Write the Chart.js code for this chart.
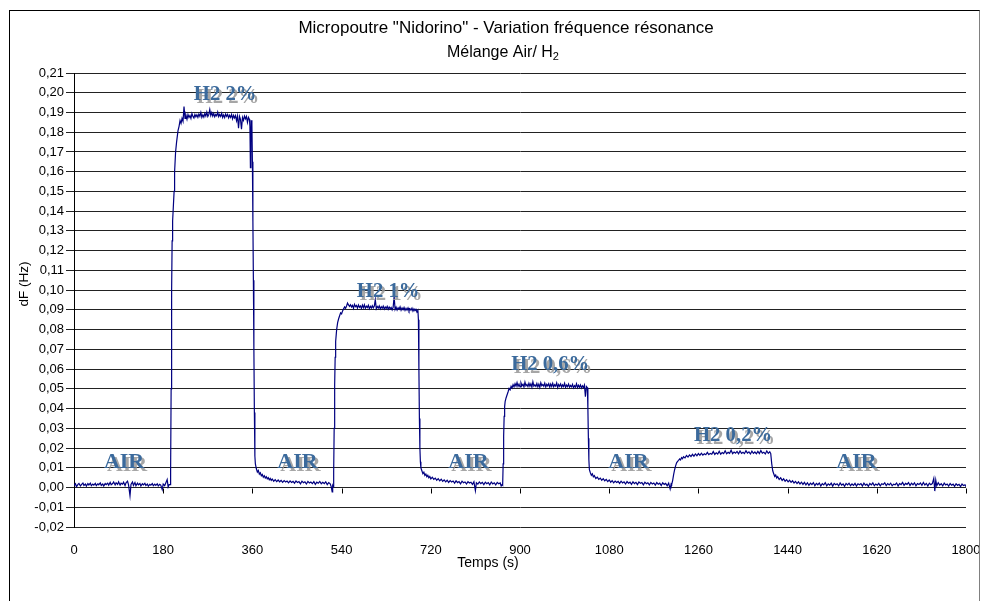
<!DOCTYPE html>
<html><head><meta charset="utf-8">
<script src="https://cdn.jsdelivr.net/npm/chart.js@4.4.0/dist/chart.umd.min.js"></script>
<style>
html,body{margin:0;padding:0;background:#fff;overflow:hidden}
#wrap{position:relative;width:981px;height:601px}
#frame{position:absolute;left:9px;top:10px;width:971px;height:640px;border:1px solid #000;border-right-color:#808080;box-sizing:border-box;pointer-events:none}
canvas{position:absolute;left:0;top:0}
</style></head><body>
<div id="wrap"><canvas id="c" width="981" height="601"></canvas><div id="frame"></div></div>
<script>
// ---- Data (time in s, dF in mHz) ----
const air1 = [[0,1.0],[3,1.9],[5,0.4],[8,1.6],[10,2.1],[13,0.8],[15,1.5],[18,2.3],[20,1.1],[23,1.8],[25,0.7],[28,2.0],[30,1.3],[33,2.2],[35,0.9],[38,1.7],[40,1.2],[43,2.1],[45,1.0],[48,1.9],[50,1.4],[53,2.3],[55,1.1],[58,1.8],[60,0.8],[63,2.0],[65,1.5],[68,2.2],[70,1.2],[73,2.6],[75,1.4],[78,2.0],[80,2.8],[83,1.3],[85,2.4],[88,1.6],[90,2.9],[93,1.2],[95,2.2],[98,1.7],[100,2.7],[103,1.0],[105,2.4],[108,3.2],[110,1.5],[113,-4.2],[115,1.6],[118,2.8],[120,1.1],[123,2.5],[125,0.9],[128,2.2],[130,1.4],[133,2.0],[135,0.8],[138,1.9],[140,1.3],[143,2.1],[145,1.0],[148,1.8],[150,0.7],[153,1.6],[155,1.2],[158,2.0],[160,0.9],[163,1.7],[165,1.1],[168,1.9],[170,0.8],[173,1.6],[175,1.2],[178,-1.0],[180,1.8],[183,1.0],[185,2.2],[188,4.0],[190,0.3],[192,1.5]];
const h2_2pct = [[194,1.5],[195,10],[196,50],[197,100],[198,125],[199,135],[200,140],[202,150],[203,160],[205,170],[207,175],[209,179],[210,181],[212,183],[214,186],[216,184.5],[218,187],[220,185.5],[222,193],[224,187],[226,188.5],[228,186.5],[230,189],[232,187.5],[234,188.5],[236,187],[238,189.5],[240,188],[242,187.2],[244,189],[246,187.8],[248,188.8],[250,187.5],[252,189.2],[254,188],[256,190],[258,187.5],[260,188.8],[262,187.6],[264,189.5],[266,188.2],[268,190.2],[270,188],[272,189],[274,191.5],[276,188.5],[278,190],[280,188.2],[282,189.5],[284,187.8],[286,189],[288,188.3],[290,190.2],[292,187.9],[294,189],[296,188],[298,189.6],[300,187.5],[302,188.8],[304,187.4],[306,189.2],[308,188],[310,189],[312,187.3],[314,188.6],[316,187.5],[318,189],[320,186.8],[322,188.5],[324,187.2],[326,188.4],[328,185.8],[330,188.2],[332,182],[334,188],[336,186.5],[338,181.5],[340,187.5],[342,186],[344,188.2],[346,186.8],[348,188],[350,185],[352,187.5],[354,186.5],[355,183],[356,162],[357,180],[358,186],[359,184],[360,165],[361,135],[362,105],[363,70],[364,38],[365,16]];
const air2 = [[366,12],[368,9.5],[370,7.8],[372,8.6],[374,6.8],[376,7.5],[378,6.0],[380,6.6],[382,5.2],[384,6.0],[386,4.8],[388,5.5],[390,4.4],[392,5.0],[394,3.9],[396,4.6],[398,3.6],[400,4.3],[403,3.2],[406,4.0],[409,3.0],[412,3.8],[415,2.9],[418,3.6],[421,2.6],[424,3.5],[427,2.8],[430,3.3],[433,2.4],[436,3.4],[439,2.6],[442,3.1],[445,2.2],[448,3.3],[451,2.5],[454,3.0],[457,1.9],[460,3.2],[463,2.4],[466,2.9],[469,1.8],[472,3.1],[475,2.3],[478,2.8],[481,2.0],[484,3.0],[487,1.6],[490,2.7],[493,2.2],[496,3.1],[499,1.9],[502,2.6],[505,2.0],[508,2.9],[511,1.5],[514,2.5],[517,1.9],[519,0.5],[521,-2.2],[522,1.0]];
const h2_1pct = [[523,0.5],[524,8],[525,30],[526,52],[527,66],[528,74],[530,80],[532,83.5],[534,85.5],[536,87],[538,88.5],[540,88],[542,89.5],[544,90.5],[546,91.5],[548,90.8],[550,92],[552,93.5],[554,92.5],[556,91.8],[558,92.6],[560,91.5],[562,92.3],[564,90.8],[566,92.8],[568,91.6],[570,92.2],[572,90.9],[574,92.5],[576,91.3],[578,92.0],[580,90.7],[582,92.4],[584,91.1],[586,92.6],[588,90.8],[590,91.9],[592,91.2],[594,92.3],[596,90.6],[598,91.8],[600,90.9],[602,92.1],[604,91.0],[606,91.9],[608,95.2],[610,90.6],[612,91.7],[614,90.9],[616,92.0],[618,90.5],[620,91.6],[622,90.8],[624,91.9],[626,90.4],[628,91.5],[630,90.7],[632,91.8],[634,90.3],[636,91.4],[638,90.6],[640,91.2],[642,90.0],[644,91.3],[646,96.8],[648,90.2],[650,91.4],[652,89.9],[654,91.1],[656,90.3],[658,91.5],[660,89.8],[662,91.0],[664,90.1],[666,91.2],[668,89.7],[670,90.8],[672,89.9],[674,91.0],[676,89.5],[678,90.6],[680,89.8],[682,90.9],[684,89.4],[686,90.5],[688,89.6],[690,90.3],[692,88.9],[694,89.8],[695,85],[696,60],[697,35],[698,20],[699,13]];
const air3 = [[700,10],[702,8.5],[704,7.0],[706,7.8],[708,6.1],[710,6.8],[712,5.5],[714,6.2],[716,4.9],[718,5.6],[720,4.4],[723,5.2],[726,4.1],[729,4.8],[732,3.7],[735,4.5],[738,3.4],[741,4.2],[744,3.1],[747,3.9],[750,2.9],[753,3.7],[756,2.6],[759,3.5],[762,2.8],[765,3.3],[768,2.2],[771,3.4],[774,2.5],[777,3.0],[780,1.9],[783,3.2],[786,2.4],[789,2.8],[792,1.8],[795,3.0],[798,2.3],[801,2.7],[804,1.6],[807,2.9],[810,-1.6],[812,2.4],[815,1.7],[818,2.8],[821,2.0],[824,2.6],[827,1.5],[830,2.7],[833,1.9],[836,2.5],[839,1.4],[842,2.8],[845,1.8],[848,2.4],[851,1.3],[854,2.6],[857,1.9],[860,2.3],[862,0.8],[864,1.5]];
const h2_06pct = [[865,1.2],[866,12],[867,26],[868,36],[869,41],[870,43.5],[872,45.5],[874,47],[876,48.5],[878,50.2],[880,49.5],[882,51.3],[884,50.4],[886,52.1],[888,51.0],[890,52.6],[892,51.4],[894,53.2],[896,51.2],[898,52.4],[900,51.0],[902,53.0],[904,51.6],[906,52.3],[908,50.9],[910,53.4],[912,51.5],[914,52.2],[916,51.1],[918,52.8],[920,51.3],[922,52.5],[924,50.8],[926,53.6],[928,51.4],[930,52.0],[932,51.2],[934,52.7],[936,51.0],[938,52.4],[940,50.7],[942,53.1],[944,51.6],[946,52.2],[948,51.3],[950,52.9],[952,50.9],[954,52.3],[956,51.5],[958,52.6],[960,50.8],[962,52.4],[964,51.2],[966,52.8],[968,51.0],[970,52.1],[972,51.4],[974,53.0],[976,50.6],[978,52.2],[980,51.3],[982,52.5],[984,50.9],[986,52.0],[988,51.2],[990,52.8],[992,50.7],[994,51.9],[996,51.1],[998,52.4],[1000,50.8],[1002,51.7],[1004,51.0],[1006,52.3],[1008,50.5],[1010,51.6],[1012,50.9],[1014,52.6],[1016,50.6],[1018,51.8],[1020,50.8],[1022,52.0],[1024,50.4],[1026,51.5],[1028,50.7],[1030,51.9],[1032,46.0],[1034,51.2],[1036,50.6],[1037,40],[1038,25],[1039,14],[1040,9]];
const air4 = [[1042,7.5],[1044,6.2],[1046,6.9],[1048,5.4],[1050,6.0],[1053,4.6],[1056,5.3],[1059,4.1],[1062,4.8],[1065,3.7],[1068,4.5],[1071,3.4],[1074,4.1],[1077,3.0],[1080,3.8],[1083,2.7],[1086,3.5],[1089,2.4],[1092,3.3],[1095,2.6],[1098,3.1],[1101,2.1],[1104,3.2],[1107,2.3],[1110,2.9],[1113,1.8],[1116,3.0],[1119,2.2],[1122,2.7],[1125,1.6],[1128,2.9],[1131,2.0],[1134,2.6],[1137,1.5],[1140,2.8],[1143,2.1],[1146,2.5],[1149,1.4],[1152,2.7],[1155,1.9],[1158,2.4],[1161,1.3],[1164,2.6],[1167,1.8],[1170,2.3],[1173,1.2],[1176,2.5],[1179,1.7],[1182,2.2],[1185,1.0],[1188,2.4],[1191,1.6],[1194,2.1],[1197,0.9],[1200,2.2],[1203,-0.8],[1205,1.8]];
const h2_02pct = [[1206,1.5],[1208,3.5],[1210,6.5],[1212,9.0],[1214,11.0],[1216,12.5],[1218,13.2],[1220,13.8],[1222,14.5],[1224,14.0],[1226,15.2],[1228,14.6],[1230,15.6],[1233,15.0],[1236,16.2],[1239,15.4],[1242,16.5],[1245,15.7],[1248,16.8],[1251,15.9],[1254,17.0],[1257,16.1],[1260,17.2],[1263,16.3],[1266,17.4],[1269,16.4],[1272,17.1],[1275,16.6],[1278,17.8],[1281,16.7],[1284,17.3],[1287,16.9],[1290,18.2],[1293,16.8],[1296,17.6],[1299,17.0],[1302,18.4],[1305,16.9],[1308,17.7],[1311,17.2],[1314,18.6],[1317,17.1],[1320,17.8],[1323,17.3],[1326,18.9],[1329,17.2],[1332,18.0],[1335,17.4],[1338,18.3],[1341,17.1],[1344,18.5],[1347,17.3],[1350,17.9],[1353,17.2],[1356,18.6],[1359,17.4],[1362,18.1],[1365,17.0],[1368,18.4],[1371,17.3],[1374,18.0],[1377,17.1],[1380,18.3],[1383,17.2],[1386,18.7],[1389,17.4],[1392,17.9],[1395,17.0],[1398,18.5],[1401,17.3],[1404,18.1],[1406,17.2],[1408,12],[1410,8.5]];
const air5 = [[1412,7.0],[1414,5.6],[1416,6.3],[1418,4.8],[1420,5.5],[1423,4.1],[1426,4.9],[1429,3.6],[1432,4.4],[1435,3.2],[1438,4.0],[1441,2.9],[1444,3.7],[1447,2.6],[1450,3.4],[1453,2.3],[1456,3.1],[1459,2.0],[1462,2.9],[1465,1.8],[1468,2.7],[1471,1.6],[1474,2.6],[1477,1.3],[1480,2.4],[1483,1.1],[1486,2.2],[1489,1.5],[1492,2.5],[1495,0.9],[1498,2.1],[1501,1.4],[1504,2.3],[1507,0.8],[1510,2.0],[1513,1.3],[1516,2.4],[1519,0.9],[1522,1.9],[1525,1.2],[1528,2.2],[1531,0.7],[1534,2.1],[1537,1.4],[1540,1.9],[1543,0.8],[1546,2.3],[1549,1.2],[1552,1.8],[1555,0.6],[1558,2.0],[1561,1.3],[1564,2.2],[1567,0.9],[1570,1.8],[1573,1.1],[1576,2.1],[1579,0.7],[1582,1.9],[1585,1.4],[1588,2.0],[1591,0.8],[1594,2.2],[1597,1.2],[1600,1.7],[1603,0.6],[1606,2.0],[1609,1.3],[1612,2.3],[1615,0.9],[1618,1.8],[1621,1.2],[1624,2.1],[1627,0.8],[1630,1.9],[1633,1.5],[1636,2.4],[1639,1.0],[1642,2.0],[1645,1.3],[1648,2.2],[1651,0.9],[1654,1.7],[1657,1.4],[1660,2.3],[1663,0.8],[1666,2.0],[1669,1.5],[1672,2.6],[1675,1.1],[1678,2.1],[1681,1.6],[1684,2.5],[1687,1.0],[1690,2.2],[1693,1.4],[1696,2.4],[1699,0.9],[1702,2.0],[1705,1.5],[1708,2.3],[1711,1.1],[1714,2.6],[1717,1.3],[1720,2.1],[1723,0.8],[1726,2.2],[1729,1.4],[1732,2.0],[1735,4.6],[1737,-1.8],[1739,3.8],[1741,0.9],[1744,2.4],[1747,1.2],[1750,1.9],[1753,0.8],[1756,2.2],[1759,1.3],[1762,1.8],[1765,0.7],[1768,2.0],[1771,1.2],[1774,1.7],[1777,0.6],[1780,1.9],[1783,1.1],[1786,1.6],[1789,0.5],[1792,1.8],[1795,1.0],[1798,1.4],[1800,0.4]];

// ---- Labels ----
const titleLines = ['Micropoutre "Nidorino" - Variation fréquence résonance', 'Mélange Air/ H', '2'];
const xAxisTitle = 'Temps (s)';
const yAxisTitle = 'dF (Hz)';
const annoTexts  = ['AIR', 'H2 2%', 'AIR', 'H2 1%', 'AIR', 'H2 0,6%', 'AIR', 'H2 0,2%', 'AIR'];
const annoTimes  = [101, 305, 451, 634, 796, 961, 1119, 1330, 1579];
const annoValues = [0.0099, 0.1963, 0.0099, 0.0967, 0.0099, 0.0595, 0.0099, 0.0236, 0.0099];

const phases = [air1, h2_2pct, air2, h2_1pct, air3, h2_06pct, air4, h2_02pct, air5];
const points = phases.flat().map(([t, mHz]) => ({x: t, y: mHz / 1000}));

const decor = {
  id: 'decor',
  afterDatasetsDraw(chart) {
    const {ctx, scales: {x, y}} = chart;
    ctx.save();
    ctx.textAlign = 'center';
    ctx.textBaseline = 'alphabetic';
    ctx.font = 'bold 22px "Liberation Serif", "Times New Roman", serif';
    annoTexts.forEach((txt, i) => {
      const px = x.getPixelForValue(annoTimes[i]);
      const py = y.getPixelForValue(annoValues[i]);
      const sx = txt === 'AIR' ? 1.0 : 0.94;
      ctx.save();
      ctx.translate(px, py);
      ctx.scale(sx, 1);
      ctx.fillStyle = 'rgba(150,150,150,0.85)';
      ctx.fillText(txt, 3, 3);
      ctx.fillStyle = '#3b6a9c';
      ctx.fillText(txt, 0, 0);
      ctx.restore();
    });
    ctx.restore();
  },
  afterDraw(chart) {
    const {ctx, scales: {x, y}} = chart;
    ctx.save();
    // small x-axis tick marks on the zero line
    const y0 = Math.round(y.getPixelForValue(0)) + 0.5;
    ctx.strokeStyle = '#000';
    ctx.lineWidth = 1;
    ctx.beginPath();
    x.ticks.forEach(t => {
      const px = Math.round(x.getPixelForValue(t.value)) + 0.5;
      ctx.moveTo(px, y0);
      ctx.lineTo(px, y0 + 5);
    });
    ctx.stroke();
    // titles
    ctx.fillStyle = '#000';
    ctx.textBaseline = 'alphabetic';
    ctx.textAlign = 'center';
    ctx.font = '17px "Liberation Sans", Arial, sans-serif';
    ctx.fillText(titleLines[0], 506, 33);
    ctx.font = '16px "Liberation Sans", Arial, sans-serif';
    const w1 = ctx.measureText(titleLines[1]).width;
    ctx.font = '11px "Liberation Sans", Arial, sans-serif';
    const w2 = ctx.measureText(titleLines[2]).width;
    const startX = 503 - (w1 + w2) / 2;
    ctx.textAlign = 'left';
    ctx.font = '16px "Liberation Sans", Arial, sans-serif';
    ctx.fillText(titleLines[1], startX, 57);
    ctx.font = '11px "Liberation Sans", Arial, sans-serif';
    ctx.fillText(titleLines[2], startX + w1, 60);
    // axis titles
    ctx.textAlign = 'center';
    ctx.font = '14px "Liberation Sans", Arial, sans-serif';
    ctx.fillText(xAxisTitle, 488, 567);
    ctx.save();
    ctx.translate(28, 284);
    ctx.rotate(-Math.PI / 2);
    ctx.font = '13.5px "Liberation Sans", Arial, sans-serif';
    ctx.fillText(yAxisTitle, 0, 0);
    ctx.restore();
    ctx.restore();
  }
};

new Chart(document.getElementById('c'), {
  type: 'line',
  data: {
    datasets: [{
      data: points,
      borderColor: '#000080',
      borderWidth: 1.2,
      pointRadius: 0,
      tension: 0,
      fill: false
    }]
  },
  options: {
    responsive: false,
    animation: false,
    devicePixelRatio: 1,
    layout: {padding: {left: 0, right: 15, top: 73, bottom: 0}},
    plugins: {legend: {display: false}, tooltip: {enabled: false}, title: {display: false}},
    scales: {
      x: {
        type: 'linear',
        min: 0, max: 1800,
        afterFit: s => { s.height = 74; s.paddingLeft = 0; s.paddingRight = 0; },
        grid: {display: true, drawOnChartArea: false, drawTicks: false},
        border: {display: false},
        ticks: {
          stepSize: 180, autoSkip: false, maxRotation: 0, padding: 16,
          color: '#000', font: {family: '"Liberation Sans", Arial, sans-serif', size: 13},
          callback: v => String(v)
        }
      },
      y: {
        min: -0.02, max: 0.21,
        afterFit: s => { s.width = 74; },
        grid: {color: '#222', lineWidth: 1, tickLength: 8},
        border: {display: true, color: '#000', width: 1},
        ticks: {
          stepSize: 0.01, autoSkip: false, padding: 2,
          color: '#000', font: {family: '"Liberation Sans", Arial, sans-serif', size: 13},
          callback: v => (Math.abs(v) < 1e-9 ? 0 : v).toFixed(2).replace('.', ',')
        }
      }
    }
  },
  plugins: [decor]
});
</script>
</body></html>
